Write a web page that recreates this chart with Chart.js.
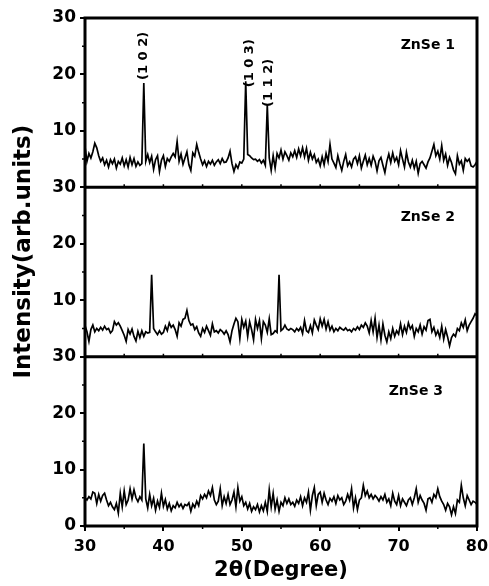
<!DOCTYPE html>
<html>
<head>
<meta charset="utf-8">
<title>XRD patterns of ZnSe films</title>
<script src="https://cdn.jsdelivr.net/npm/chart.js@4.4.1/dist/chart.umd.min.js"></script>
<style>
  html, body { margin: 0; padding: 0; background: #fff; }
  canvas { display: block; }
</style>
</head>
<body>
<canvas id="xrd" width="489" height="586"></canvas>
<script>
// Diffraction scans: 2θ from 30° to 80° sampled every 0.25°
const angleStart = 30;
const angleStep = 0.25;
const sampleNames = ['ZnSe 1', 'ZnSe 2', 'ZnSe 3'];
const xTicks = [30, 40, 50, 60, 70, 80];
const yTicks = [0, 10, 20, 30];

const znse1 = [
  7.2, 4.6, 6.0, 5.2,  6.3, 7.8, 7.0, 5.6,  4.6, 5.2, 4.0, 4.8,  3.6, 4.9, 4.2, 5.0,
  3.4, 4.6, 4.1, 5.2,  3.8, 4.9, 3.6, 5.3,  4.0, 5.1, 3.7, 4.5,  3.9, 4.2, 18.5, 4.6,
  5.8, 4.4, 5.5, 3.2,  4.9, 5.6, 2.8, 4.8,  5.6, 3.7, 5.1, 4.6,  5.4, 6.0, 5.4, 8.1,
  4.6, 5.9, 4.1, 5.2,  6.3, 4.0, 3.0, 6.1,  5.5, 7.6, 6.2, 5.0,  4.0, 4.7, 3.7, 4.6,
  4.1, 4.8, 3.9, 4.5,  4.9, 4.2, 5.1, 4.4,  4.5, 5.2, 6.4, 4.2,  2.8, 4.0, 3.4, 4.5,
  4.3, 5.0, 18.8, 5.8, 5.6, 5.2, 4.9, 5.0,  4.6, 4.9, 4.3, 4.8,  3.9, 14.6, 5.2, 3.0,
  5.6, 3.4, 6.0, 5.2,  6.6, 5.0, 6.3, 5.6,  4.8, 6.1, 5.4, 6.5,  5.3, 6.8, 5.6, 7.0,
  5.4, 6.9, 4.8, 6.2,  5.0, 5.8, 4.4, 5.0,  3.8, 5.4, 4.0, 6.0,  4.6, 7.6, 5.0, 4.3,
  3.5, 5.6, 4.2, 3.0,  4.6, 5.8, 3.8, 4.5,  3.6, 5.0, 5.4, 4.2,  5.6, 3.4, 4.6, 5.7,
  4.0, 5.1, 3.9, 5.5,  4.6, 2.9, 4.7, 5.3,  3.9, 2.6, 4.6, 5.9,  4.4, 6.1, 4.6, 5.3,
  4.0, 6.5, 5.0, 3.6,  6.2, 4.5, 3.6, 4.8,  3.4, 4.6, 2.5, 4.2,  4.6, 4.0, 3.4, 4.5,
  5.2, 6.4, 7.6, 5.6,  6.4, 5.0, 7.4, 4.8,  5.9, 3.9, 5.3, 4.4,  3.1, 2.4, 5.6, 4.1,
  4.7, 3.0, 5.1, 4.6,  5.0, 3.8, 3.6, 4.0,  4.6
];

const znse2 = [
  5.5, 4.4, 2.7, 4.8,  5.6, 4.4, 5.0, 4.6,  5.2, 4.7, 5.4, 4.8,  5.0, 4.2, 4.6, 6.2,
  5.6, 6.0, 5.4, 4.6,  3.8, 2.7, 4.8, 4.0,  4.9, 3.6, 2.8, 4.5,  3.4, 4.6, 3.6, 4.4,
  4.2, 4.3, 14.5, 5.0, 4.4, 3.9, 4.6, 4.0,  4.3, 5.4, 4.6, 6.0,  5.2, 5.6, 4.8, 3.6,
  6.0, 5.4, 6.6, 6.8,  8.2, 6.4, 5.6, 5.8,  4.8, 5.3, 4.2, 3.6,  5.0, 4.3, 5.4, 4.6,
  3.8, 5.8, 4.4, 4.6,  4.2, 4.8, 4.5, 4.0,  4.6, 3.9, 2.6, 4.6,  5.8, 6.8, 6.2, 3.2,
  6.6, 5.2, 6.3, 3.6,  6.2, 4.8, 3.0, 6.6,  5.0, 6.4, 3.2, 6.2,  5.6, 4.3, 6.7, 3.9,
  4.1, 4.6, 4.3, 14.5, 4.6, 4.9, 5.6, 4.9,  4.7, 5.0, 4.8, 4.4,  5.0, 4.6, 5.2, 4.1,
  6.4, 4.6, 4.3, 5.5,  4.2, 6.5, 5.6, 4.8,  6.7, 5.4, 6.6, 4.9,  6.2, 4.7, 5.4, 4.4,
  5.0, 4.6, 5.2, 4.9,  4.7, 5.1, 4.6, 4.8,  4.4, 5.0, 4.7, 5.3,  4.8, 5.6, 5.2, 6.0,
  5.4, 4.2, 6.4, 4.4,  6.8, 3.4, 5.6, 3.0,  5.8, 3.8, 2.6, 4.4,  3.2, 5.0, 3.6, 4.6,
  4.0, 5.8, 3.9, 5.4,  4.3, 6.0, 4.9, 5.5,  3.6, 5.0, 4.4, 5.6,  4.0, 5.3, 4.7, 6.4,
  6.6, 4.4, 5.2, 3.8,  4.6, 3.4, 5.4, 3.1,  4.8, 3.5, 1.9, 3.4,  4.0, 3.6, 5.0, 4.6,
  6.0, 5.2, 6.5, 4.6,  5.6, 6.2, 6.8, 7.6,  7.2
];

const znse3 = [
  5.0, 4.6, 5.2, 4.8,  6.0, 5.8, 4.0, 5.6,  4.4, 5.4, 5.8, 4.6,  3.6, 4.2, 3.4, 2.9,
  4.0, 2.3, 5.8, 3.4,  6.2, 3.8, 4.6, 6.6,  4.8, 6.4, 5.0, 4.3,  5.2, 4.6, 14.6, 4.8,
  3.2, 5.6, 3.6, 4.9,  2.8, 4.4, 3.3, 5.8,  3.5, 4.7, 3.0, 4.0,  2.7, 3.6, 3.2, 4.2,
  3.4, 3.9, 3.1, 3.8,  3.6, 4.1, 2.6, 3.9,  3.3, 4.4, 3.6, 5.4,  4.8, 5.6, 5.0, 6.2,
  5.4, 6.8, 4.6, 3.8,  4.4, 6.6, 3.6, 5.2,  4.0, 5.6, 3.8, 4.6,  6.0, 3.4, 6.8, 4.4,
  5.2, 3.6, 4.2, 3.0,  4.0, 2.6, 3.4, 2.9,  3.8, 2.5, 3.6, 2.7,  4.2, 2.6, 6.4, 3.4,
  5.8, 3.0, 4.6, 2.6,  4.2, 3.6, 5.0, 4.0,  4.8, 3.8, 4.2, 3.5,  4.6, 4.0, 5.2, 3.6,
  5.0, 4.2, 6.0, 2.8,  5.4, 6.8, 3.6, 5.6,  6.0, 4.2, 5.8, 4.6,  3.8, 4.9, 4.4, 5.2,
  4.0, 5.4, 4.6, 5.0,  3.8, 4.4, 5.6, 4.6,  6.6, 3.2, 5.0, 2.9,  4.6, 5.0, 7.2, 5.4,
  6.2, 5.0, 5.6, 4.8,  5.4, 5.0, 4.4, 5.2,  4.6, 5.6, 4.2, 4.8,  3.6, 5.8, 4.4, 3.8,
  5.4, 3.6, 4.8, 4.2,  3.6, 4.6, 5.0, 3.8,  5.0, 6.6, 4.2, 5.4,  4.6, 4.0, 2.8, 4.8,
  5.0, 4.2, 5.6, 5.0,  6.6, 5.2, 4.4, 3.8,  2.8, 4.0, 3.4, 2.0,  3.4, 2.2, 4.6, 4.2,
  7.2, 5.0, 3.6, 5.4,  4.6, 3.8, 4.4, 4.2,  3.8
];

// Miller indices of the reflections indexed on the first scan
const peakAngles = [37.5, 50.5, 53.25];
const peakIndices = ['(1 0 2)', '(1 0 3)', '(1 1 2)'];

// ---- drawing setup ----
const panelIds = ['y1', 'y2', 'y3'];
const panelSeries = [znse1, znse2, znse3];
const FONT = '"DejaVu Sans", sans-serif';
// sample-name placement inside each panel (from the panel's top-right corner)
const nameOffsets = [{ dx: 22, dy: 27 }, { dx: 22, dy: 30 }, { dx: 34, dy: 35 }];
// nudges for the rotated index labels, relative to the peak tip
const indexNudges = [{ dx: 0, dy: 3 }, { dx: 4, dy: -6 }, { dx: 1.5, dy: -2 }];

const toPoints = arr => arr.map((v, i) => ({ x: angleStart + i * angleStep, y: v }));

const datasets = panelSeries.map((arr, k) => ({
  label: sampleNames[k],
  data: toPoints(arr),
  yAxisID: panelIds[k],
  borderColor: '#000',
  borderWidth: 1.7,
  pointRadius: 0,
  tension: 0,
  fill: false
}));

function yScale(id, showZero) {
  return {
    type: 'linear',
    position: 'left',
    stack: 'xrd',
    stackWeight: 1,
    min: 0,
    max: 30,
    afterBuildTicks: s => { s.ticks = yTicks.map(v => ({ value: v })); },
    afterFit: s => { s.width = 85; },
    ticks: {
      color: '#000',
      padding: 4,
      font: { family: FONT, size: 17, weight: 'bold' },
      callback: v => (v === 0 && !showZero) ? '' : String(v)
    },
    grid: { drawOnChartArea: false, color: '#000', lineWidth: 2, tickLength: 5 },
    border: { display: false }
  };
}

const framePlugin = {
  id: 'frame',
  afterDraw(chart) {
    const { ctx, chartArea: a, scales } = chart;
    const xs = scales.x;
    ctx.save();
    ctx.strokeStyle = '#000';
    ctx.lineCap = 'butt';

    // minor ticks
    ctx.lineWidth = 1.5;
    ctx.beginPath();
    panelIds.forEach((id, k) => {
      const s = scales[id];
      [5, 15, 25].forEach(v => {
        const py = s.getPixelForValue(v);
        ctx.moveTo(a.left - 3, py); ctx.lineTo(a.left, py);
      });
      for (let v = 35; v < 80; v += 5) {
        const px = xs.getPixelForValue(v);
        if (k < 2) { ctx.moveTo(px, s.bottom); ctx.lineTo(px, s.bottom - 3); }
        else if (v % 10 !== 0) { ctx.moveTo(px, s.bottom); ctx.lineTo(px, s.bottom + 3); }
      }
    });
    ctx.stroke();

    // frame and panel dividers
    ctx.lineWidth = 3;
    ctx.strokeRect(a.left, a.top, a.right - a.left, a.bottom - a.top);
    ctx.beginPath();
    panelIds.slice(0, 2).forEach(id => {
      const b = scales[id].bottom;
      ctx.moveTo(a.left, b); ctx.lineTo(a.right, b);
    });
    ctx.stroke();

    // sample names
    ctx.fillStyle = '#000';
    ctx.font = 'bold 14px ' + FONT;
    ctx.textAlign = 'right';
    ctx.textBaseline = 'middle';
    panelIds.forEach((id, k) => {
      const s = scales[id];
      ctx.fillText(sampleNames[k], a.right - nameOffsets[k].dx, s.top + nameOffsets[k].dy);
    });

    // reflection indices above the peaks of the first scan
    ctx.font = 'bold 13px ' + FONT;
    ctx.textAlign = 'left';
    ctx.textBaseline = 'middle';
    peakAngles.forEach((ang, k) => {
      const val = znse1[Math.round((ang - angleStart) / angleStep)];
      const px = xs.getPixelForValue(ang) + indexNudges[k].dx;
      const py = scales.y1.getPixelForValue(val) - indexNudges[k].dy;
      ctx.save();
      ctx.translate(px, py);
      ctx.rotate(-Math.PI / 2);
      ctx.fillText(peakIndices[k], 0, 0);
      ctx.restore();
    });

    // shared intensity title
    ctx.font = 'bold 23px ' + FONT;
    ctx.textAlign = 'center';
    ctx.textBaseline = 'middle';
    ctx.save();
    ctx.translate(24, a.top + (a.bottom - a.top) * 0.46);
    ctx.rotate(-Math.PI / 2);
    ctx.fillText('Intensity(arb.units)', 0, 0);
    ctx.restore();

    ctx.restore();
  }
};

new Chart(document.getElementById('xrd'), {
  type: 'line',
  data: { datasets },
  options: {
    responsive: false,
    animation: false,
    events: [],
    layout: { padding: { left: 0, right: 12, top: 18, bottom: 0 } },
    plugins: { legend: { display: false }, tooltip: { enabled: false } },
    scales: {
      x: {
        type: 'linear',
        position: 'bottom',
        min: 30,
        max: 80,
        afterBuildTicks: s => { s.ticks = xTicks.map(v => ({ value: v })); },
        afterFit: s => { s.height = 60; s.paddingLeft = 0; s.paddingRight = 0; },
        ticks: { color: '#000', padding: 6, maxRotation: 0, font: { family: FONT, size: 16, weight: 'bold' } },
        grid: { drawOnChartArea: false, color: '#000', lineWidth: 2, tickLength: 5 },
        border: { display: false },
        title: {
          display: true,
          text: '2θ(Degree)',
          color: '#000',
          padding: { top: 0, bottom: 3 },
          font: { family: FONT, size: 21, weight: 'bold' }
        }
      },
      y3: yScale('y3', true),
      y2: yScale('y2', false),
      y1: yScale('y1', false)
    }
  },
  plugins: [framePlugin]
});
</script>
</body>
</html>
